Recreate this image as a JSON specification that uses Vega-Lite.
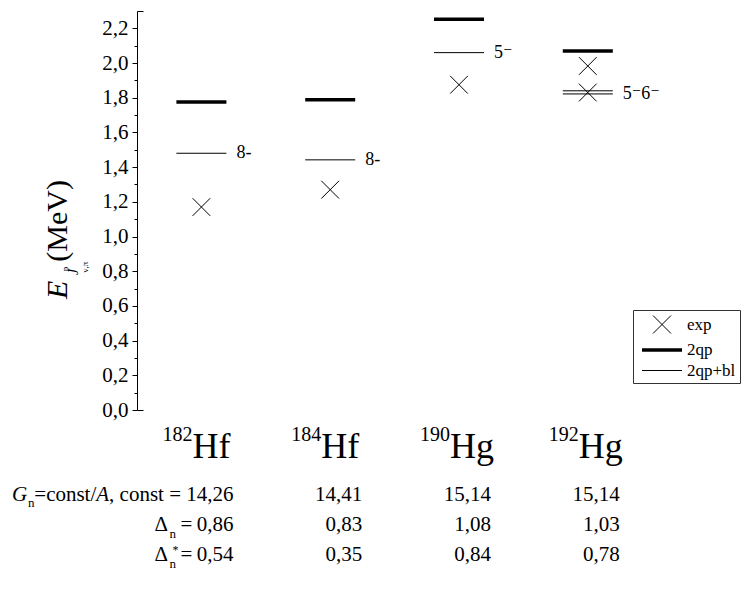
{
  "$schema": "https://vega.github.io/schema/vega-lite/v6.json",
  "background": "white",
  "padding": {"left": 12, "top": 10, "right": 0, "bottom": 0},
  "bounds": "flush",
  "spacing": 46,
  "config": {
    "view": {"stroke": null},
    "font": "Liberation Serif, Times New Roman, DejaVu Serif, serif",
    "text": {"font": "Liberation Serif, Times New Roman, DejaVu Serif, serif", "color": "black"}
  },
  "datasets": {
    "exp": [
      {"iso": 1, "E": 1.17, "type": "exp"},
      {"iso": 2, "E": 1.27, "type": "exp"},
      {"iso": 3, "E": 1.875, "type": "exp"},
      {"iso": 4, "E": 1.983, "type": "exp"},
      {"iso": 4, "E": 1.83, "type": "exp"}
    ],
    "levels": [
      {"iso": 1, "E": 1.775, "type": "2qp"},
      {"iso": 2, "E": 1.788, "type": "2qp"},
      {"iso": 3, "E": 2.253, "type": "2qp"},
      {"iso": 4, "E": 2.07, "type": "2qp"},
      {"iso": 1, "E": 1.48, "type": "2qp+bl"},
      {"iso": 2, "E": 1.442, "type": "2qp+bl"},
      {"iso": 3, "E": 2.06, "type": "2qp+bl"},
      {"iso": 4, "E": 1.84, "type": "2qp+bl"},
      {"iso": 4, "E": 1.822, "type": "2qp+bl"}
    ],
    "spins": [
      {"iso": 1, "E": 1.48, "lab": "8-"},
      {"iso": 2, "E": 1.442, "lab": "8-"},
      {"iso": 3, "E": 2.06, "lab": "5⁻"},
      {"iso": 4, "E": 1.82, "lab": "5⁻6⁻"}
    ],
    "table": [
      {"col": 1, "row": "G", "val": "14,26"},
      {"col": 2, "row": "G", "val": "14,41"},
      {"col": 3, "row": "G", "val": "15,14"},
      {"col": 4, "row": "G", "val": "15,14"},
      {"col": 1, "row": "D", "val": "0,86"},
      {"col": 2, "row": "D", "val": "0,83"},
      {"col": 3, "row": "D", "val": "1,08"},
      {"col": 4, "row": "D", "val": "1,03"},
      {"col": 1, "row": "Ds", "val": "0,54"},
      {"col": 2, "row": "Ds", "val": "0,35"},
      {"col": 3, "row": "Ds", "val": "0,84"},
      {"col": 4, "row": "Ds", "val": "0,78"}
    ],
    "iso": [
      {"col": 1, "mass": "182", "el": "Hf"},
      {"col": 2, "mass": "184", "el": "Hf"},
      {"col": 3, "mass": "190", "el": "Hg"},
      {"col": 4, "mass": "192", "el": "Hg"}
    ]
  },
  "vconcat": [
    {
      "width": 607,
      "height": 399,
      "resolve": {"axis": {"y": "independent"}},
      "layer": [
        {
          "data": {"name": "exp"},
          "mark": {"type": "point", "filled": false, "color": "black", "opacity": 1, "size": 387},
          "encoding": {
            "x": {"field": "iso", "type": "quantitative", "scale": {"domain": [0.5, 5.2127], "nice": false, "zero": false}, "axis": null},
            "y": {"field": "E", "type": "quantitative", "scale": {"domain": [0, 2.3], "nice": false, "zero": false},
              "axis": {"orient": "left", "values": [0, 0.2, 0.4, 0.6, 0.8, 1, 1.2, 1.4, 1.6, 1.8, 2, 2.2],
                "labelExpr": "replace(format(datum.value, '.1f'), '.', ',')", "title": null, "grid": false,
                "domainColor": "black", "tickColor": "black", "tickSize": 5, "labelFont": "Liberation Serif, Times New Roman, DejaVu Serif, serif",
                "labelFontSize": 21, "labelColor": "black", "labelPadding": 4, "labelOverlap": false, "labelBound": false}},
            "shape": {"field": "type", "type": "nominal",
              "scale": {"domain": ["exp", "2qp", "2qp+bl"], "range": ["M-0.9,-0.9L0.9,0.9M-0.9,0.9L0.9,-0.9", "M-2,0L2,0", "M-2,0L2,0"]},
              "legend": {"title": null, "orient": "none", "direction": "vertical", "legendX": 496, "legendY": 299, "padding": 4,
                "strokeColor": "#333333", "fillColor": "white", "labelFont": "Liberation Serif, Times New Roman, DejaVu Serif, serif", "labelFontSize": 17,
                "labelColor": "black", "symbolSize": 400, "symbolStrokeColor": "black", "symbolOffset": 13,
                "labelOffset": 13, "rowPadding": 2}},
            "strokeWidth": {"field": "type", "type": "nominal",
              "scale": {"type": "ordinal", "domain": ["exp", "2qp", "2qp+bl"], "range": [1, 3.5, 1]},
              "legend": {"title": null, "orient": "none", "direction": "vertical", "legendX": 496, "legendY": 299, "padding": 4,
                "strokeColor": "#333333", "fillColor": "white", "labelFont": "Liberation Serif, Times New Roman, DejaVu Serif, serif", "labelFontSize": 17,
                "labelColor": "black", "symbolSize": 400, "symbolStrokeColor": "black", "symbolOffset": 13,
                "labelOffset": 13, "rowPadding": 2}}
          }
        },
        {
          "data": {"name": "levels"},
          "mark": {"type": "point", "filled": false, "color": "black", "opacity": 1, "size": 625},
          "encoding": {
            "x": {"field": "iso", "type": "quantitative", "scale": {"domain": [0.5, 5.2127], "nice": false, "zero": false}, "axis": null},
            "y": {"field": "E", "type": "quantitative", "scale": {"domain": [0, 2.3], "nice": false, "zero": false},
              "axis": {"orient": "left", "values": [0.1, 0.3, 0.5, 0.7, 0.9, 1.1, 1.3, 1.5, 1.7, 1.9, 2.1],
                "labels": false, "domain": false, "title": null, "grid": false, "tickColor": "black", "tickSize": 3}},
            "shape": {"field": "type", "type": "nominal",
              "scale": {"domain": ["exp", "2qp", "2qp+bl"], "range": ["M-0.9,-0.9L0.9,0.9M-0.9,0.9L0.9,-0.9", "M-2,0L2,0", "M-2,0L2,0"]},
              "legend": {"title": null, "orient": "none", "direction": "vertical", "legendX": 496, "legendY": 299, "padding": 4,
                "strokeColor": "#333333", "fillColor": "white", "labelFont": "Liberation Serif, Times New Roman, DejaVu Serif, serif", "labelFontSize": 17,
                "labelColor": "black", "symbolSize": 400, "symbolStrokeColor": "black", "symbolOffset": 13,
                "labelOffset": 13, "rowPadding": 2}},
            "strokeWidth": {"field": "type", "type": "nominal",
              "scale": {"type": "ordinal", "domain": ["exp", "2qp", "2qp+bl"], "range": [1, 3.5, 1]},
              "legend": {"title": null, "orient": "none", "direction": "vertical", "legendX": 496, "legendY": 299, "padding": 4,
                "strokeColor": "#333333", "fillColor": "white", "labelFont": "Liberation Serif, Times New Roman, DejaVu Serif, serif", "labelFontSize": 17,
                "labelColor": "black", "symbolSize": 400, "symbolStrokeColor": "black", "symbolOffset": 13,
                "labelOffset": 13, "rowPadding": 2}}
          }
        },
        {
          "data": {"name": "spins"},
          "mark": {"type": "text", "align": "left", "baseline": "middle", "dx": 35, "fontSize": 18},
          "encoding": {
            "x": {"field": "iso", "type": "quantitative", "scale": {"domain": [0.5, 5.2127], "nice": false, "zero": false}, "axis": null},
            "y": {"field": "E", "type": "quantitative", "scale": {"domain": [0, 2.3], "nice": false, "zero": false},
              "axis": {"orient": "left", "values": [0, 2.3], "labels": false, "domain": false, "title": null, "grid": false, "tickColor": "black", "tickSize": -6}},
            "text": {"field": "lab"}
          }
        },
        {
          "data": {"values": [{"t": "E", "px": -0.117, "py": 0.692}]},
          "mark": {"type": "text", "angle": 270, "align": "center", "baseline": "middle", "fontSize": 30, "fontStyle": "italic"},
          "encoding": {
            "x": {"field": "px", "type": "quantitative", "scale": {"domain": [0.5, 5.2127], "nice": false, "zero": false}, "axis": null},
            "y": {"field": "py", "type": "quantitative", "scale": {"domain": [0, 2.3], "nice": false, "zero": false}, "axis": null},
            "text": {"field": "t"}
          }
        },
        {
          "data": {"values": [{"t": "J", "px": 0.011, "py": 0.796}]},
          "mark": {"type": "text", "angle": 270, "align": "center", "baseline": "middle", "fontSize": 14, "fontStyle": "italic"},
          "encoding": {
            "x": {"field": "px", "type": "quantitative", "scale": {"domain": [0.5, 5.2127], "nice": false, "zero": false}, "axis": null},
            "y": {"field": "py", "type": "quantitative", "scale": {"domain": [0, 2.3], "nice": false, "zero": false}, "axis": null},
            "text": {"field": "t"}
          }
        },
        {
          "data": {"values": [{"t": "p", "px": -0.059, "py": 0.813}, {"t": "ν,π", "px": 0.096, "py": 0.824}]},
          "mark": {"type": "text", "angle": 270, "align": "center", "baseline": "middle", "fontSize": 9},
          "encoding": {
            "x": {"field": "px", "type": "quantitative", "scale": {"domain": [0.5, 5.2127], "nice": false, "zero": false}, "axis": null},
            "y": {"field": "py", "type": "quantitative", "scale": {"domain": [0, 2.3], "nice": false, "zero": false}, "axis": null},
            "text": {"field": "t"}
          }
        },
        {
          "data": {"values": [{"t": "(MeV)", "px": -0.117, "py": 1.09}]},
          "mark": {"type": "text", "angle": 270, "align": "center", "baseline": "middle", "fontSize": 30},
          "encoding": {
            "x": {"field": "px", "type": "quantitative", "scale": {"domain": [0.5, 5.2127], "nice": false, "zero": false}, "axis": null},
            "y": {"field": "py", "type": "quantitative", "scale": {"domain": [0, 2.3], "nice": false, "zero": false}, "axis": null},
            "text": {"field": "t"}
          }
        }
      ]
    },
    {
      "width": 607,
      "height": 120,
      "layer": [
        {
          "data": {"name": "table"},
          "mark": {"type": "text", "align": "right", "baseline": "alphabetic", "dx": 32, "fontSize": 21},
          "encoding": {
            "x": {"field": "col", "type": "quantitative", "scale": {"domain": [0.5, 5.2127], "nice": false, "zero": false}, "axis": null},
            "y": {"field": "row", "type": "nominal", "scale": {"domain": ["iso", "G", "D", "Ds"]}, "axis": null},
            "text": {"field": "val"}
          }
        },
        {
          "data": {"name": "iso"},
          "mark": {"type": "text", "align": "left", "baseline": "alphabetic", "dx": -9, "dy": -13, "fontSize": 36},
          "encoding": {
            "x": {"field": "col", "type": "quantitative", "scale": {"domain": [0.5, 5.2127], "nice": false, "zero": false}, "axis": null},
            "y": {"datum": "iso", "type": "nominal", "scale": {"domain": ["iso", "G", "D", "Ds"]}, "axis": null},
            "text": {"field": "el"}
          }
        },
        {
          "data": {"name": "iso"},
          "mark": {"type": "text", "align": "right", "baseline": "alphabetic", "dx": -9, "dy": -30, "fontSize": 20},
          "encoding": {
            "x": {"field": "col", "type": "quantitative", "scale": {"domain": [0.5, 5.2127], "nice": false, "zero": false}, "axis": null},
            "y": {"datum": "iso", "type": "nominal", "scale": {"domain": ["iso", "G", "D", "Ds"]}, "axis": null},
            "text": {"field": "mass"}
          }
        },
        {
          "data": {"values": [{"col": 1, "row": "G", "t": "G"}]},
          "mark": {"type": "text", "align": "left", "baseline": "alphabetic", "dx": -189.4, "fontSize": 21, "fontStyle": "italic"},
          "encoding": {
            "x": {"field": "col", "type": "quantitative", "scale": {"domain": [0.5, 5.2127], "nice": false, "zero": false}, "axis": null},
            "y": {"field": "row", "type": "nominal", "scale": {"domain": ["iso", "G", "D", "Ds"]}, "axis": null},
            "text": {"field": "t"}
          }
        },
        {
          "data": {"values": [{"col": 1, "row": "G", "t": "n"}]},
          "mark": {"type": "text", "align": "left", "baseline": "alphabetic", "dx": -173.4, "dy": 6, "fontSize": 13},
          "encoding": {
            "x": {"field": "col", "type": "quantitative", "scale": {"domain": [0.5, 5.2127], "nice": false, "zero": false}, "axis": null},
            "y": {"field": "row", "type": "nominal", "scale": {"domain": ["iso", "G", "D", "Ds"]}, "axis": null},
            "text": {"field": "t"}
          }
        },
        {
          "data": {"values": [{"col": 1, "row": "G", "t": "=const/"}]},
          "mark": {"type": "text", "align": "right", "baseline": "alphabetic", "dx": -105.1, "fontSize": 21},
          "encoding": {
            "x": {"field": "col", "type": "quantitative", "scale": {"domain": [0.5, 5.2127], "nice": false, "zero": false}, "axis": null},
            "y": {"field": "row", "type": "nominal", "scale": {"domain": ["iso", "G", "D", "Ds"]}, "axis": null},
            "text": {"field": "t"}
          }
        },
        {
          "data": {"values": [{"col": 1, "row": "G", "t": "A"}]},
          "mark": {"type": "text", "align": "right", "baseline": "alphabetic", "dx": -92.3, "fontSize": 21, "fontStyle": "italic"},
          "encoding": {
            "x": {"field": "col", "type": "quantitative", "scale": {"domain": [0.5, 5.2127], "nice": false, "zero": false}, "axis": null},
            "y": {"field": "row", "type": "nominal", "scale": {"domain": ["iso", "G", "D", "Ds"]}, "axis": null},
            "text": {"field": "t"}
          }
        },
        {
          "data": {"values": [{"col": 1, "row": "G", "t": ", const ="}]},
          "mark": {"type": "text", "align": "right", "baseline": "alphabetic", "dx": -20.4, "fontSize": 21},
          "encoding": {
            "x": {"field": "col", "type": "quantitative", "scale": {"domain": [0.5, 5.2127], "nice": false, "zero": false}, "axis": null},
            "y": {"field": "row", "type": "nominal", "scale": {"domain": ["iso", "G", "D", "Ds"]}, "axis": null},
            "text": {"field": "t"}
          }
        },
        {
          "data": {"values": [{"col": 1, "row": "D", "t": "Δ"}, {"col": 1, "row": "Ds", "t": "Δ"}]},
          "mark": {"type": "text", "align": "left", "baseline": "alphabetic", "dx": -47, "fontSize": 21},
          "encoding": {
            "x": {"field": "col", "type": "quantitative", "scale": {"domain": [0.5, 5.2127], "nice": false, "zero": false}, "axis": null},
            "y": {"field": "row", "type": "nominal", "scale": {"domain": ["iso", "G", "D", "Ds"]}, "axis": null},
            "text": {"field": "t"}
          }
        },
        {
          "data": {"values": [{"col": 1, "row": "D", "t": "n"}, {"col": 1, "row": "Ds", "t": "n"}]},
          "mark": {"type": "text", "align": "left", "baseline": "alphabetic", "dx": -32, "dy": 7, "fontSize": 13},
          "encoding": {
            "x": {"field": "col", "type": "quantitative", "scale": {"domain": [0.5, 5.2127], "nice": false, "zero": false}, "axis": null},
            "y": {"field": "row", "type": "nominal", "scale": {"domain": ["iso", "G", "D", "Ds"]}, "axis": null},
            "text": {"field": "t"}
          }
        },
        {
          "data": {"values": [{"col": 1, "row": "D", "t": "="}, {"col": 1, "row": "Ds", "t": "="}]},
          "mark": {"type": "text", "align": "center", "baseline": "alphabetic", "dx": -15, "fontSize": 21},
          "encoding": {
            "x": {"field": "col", "type": "quantitative", "scale": {"domain": [0.5, 5.2127], "nice": false, "zero": false}, "axis": null},
            "y": {"field": "row", "type": "nominal", "scale": {"domain": ["iso", "G", "D", "Ds"]}, "axis": null},
            "text": {"field": "t"}
          }
        },
        {
          "data": {"values": [{"col": 1, "row": "Ds", "t": "*"}]},
          "mark": {"type": "text", "align": "left", "baseline": "alphabetic", "dx": -29, "dy": -7, "fontSize": 12},
          "encoding": {
            "x": {"field": "col", "type": "quantitative", "scale": {"domain": [0.5, 5.2127], "nice": false, "zero": false}, "axis": null},
            "y": {"field": "row", "type": "nominal", "scale": {"domain": ["iso", "G", "D", "Ds"]}, "axis": null},
            "text": {"field": "t"}
          }
        }
      ]
    }
  ]
}
